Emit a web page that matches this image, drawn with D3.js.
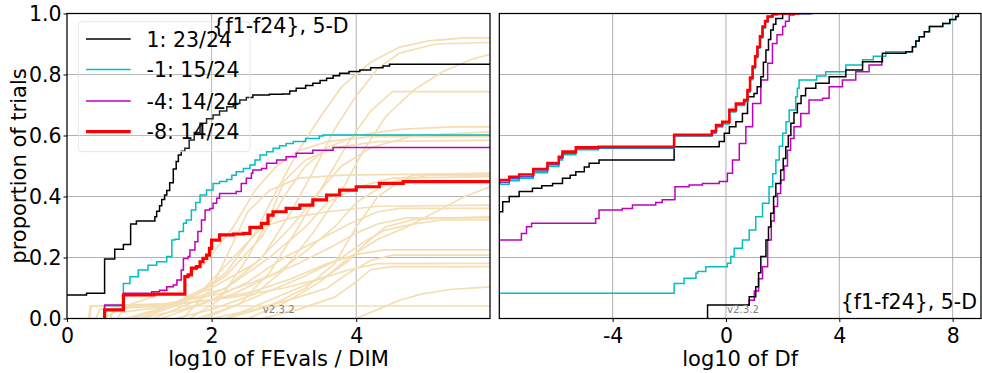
<!DOCTYPE html>
<html>
<head>
<meta charset="utf-8">
<script src="https://cdn.jsdelivr.net/npm/d3@7/dist/d3.min.js"></script>
<style>
  html, body { margin: 0; padding: 0; background: #fff; }
  svg { display: block; font-family: "DejaVu Sans", sans-serif; }
</style>
</head>
<body>
<svg id="chart" width="982" height="373"></svg>
<script>
// ---------------- data ----------------
const legendLabels = ["1: 23/24", "-1: 15/24", "-4: 14/24", "-8: 14/24"];
const panelTitle = "{f1-f24}, 5-D";
const versionLabel = "v2.3.2";
const yTicks = [0, 0.2, 0.4, 0.6, 0.8, 1.0];
const leftXTicks = [0, 2, 4];
const rightXTicks = [-4, 0, 4, 8];
const leftXLabel = "log10 of FEvals / DIM";
const rightXLabel = "log10 of Df";
const yLabel = "proportion of trials";

// runtime ECDFs per target precision: [log10(FEvals/DIM), proportion]
const rlTarget1 = [[-0.2,0.077],[0.27,0.083],[0.52,0.195],[0.66,0.227],[0.78,0.243],[0.88,0.31],[0.96,0.32],[1.215,0.334],[1.24,0.352],[1.28,0.37],[1.31,0.39],[1.35,0.405],[1.38,0.42],[1.42,0.445],[1.47,0.49],[1.51,0.515],[1.54,0.536],[1.58,0.548],[1.63,0.558],[1.69,0.585],[1.76,0.61],[1.84,0.64],[1.93,0.655],[2.02,0.667],[2.11,0.68],[2.21,0.694],[2.3,0.705],[2.39,0.716],[2.48,0.725],[2.57,0.733],[2.8,0.735],[2.98,0.736],[3.08,0.746],[3.17,0.755],[3.3,0.764],[3.40,0.771],[3.5,0.78],[3.59,0.788],[3.68,0.796],[3.77,0.804],[3.9,0.81],[4.05,0.815],[4.2,0.822],[4.37,0.828],[4.46,0.834],[5.85,0.834]];
const rlTargetM1 = [[0.52,0],[0.52,0.042],[0.78,0.115],[0.87,0.137],[0.985,0.159],[1.12,0.175],[1.24,0.186],[1.38,0.203],[1.45,0.257],[1.49,0.26],[1.55,0.285],[1.61,0.312],[1.65,0.323],[1.72,0.356],[1.78,0.38],[1.84,0.405],[1.93,0.421],[2.02,0.443],[2.11,0.449],[2.21,0.456],[2.28,0.47],[2.34,0.481],[2.44,0.492],[2.53,0.503],[2.6,0.52],[2.67,0.536],[2.76,0.547],[2.85,0.558],[2.94,0.566],[3.03,0.574],[3.13,0.58],[3.3,0.59],[3.49,0.598],[3.54,0.602],[5.85,0.602]];
const rlTargetM4 = [[0.52,0],[0.52,0.044],[0.78,0.083],[1.17,0.088],[1.28,0.093],[1.38,0.104],[1.47,0.11],[1.52,0.126],[1.58,0.159],[1.61,0.197],[1.675,0.203],[1.70,0.225],[1.77,0.252],[1.81,0.285],[1.86,0.323],[1.91,0.356],[1.975,0.361],[2.02,0.378],[2.07,0.394],[2.11,0.41],[2.34,0.416],[2.41,0.443],[2.48,0.46],[2.55,0.476],[2.57,0.487],[2.69,0.492],[2.76,0.509],[2.90,0.52],[3.03,0.53],[3.17,0.542],[3.40,0.552],[3.68,0.561],[5.85,0.561]];
const rlTargetM8 = [[0.52,0],[0.52,0.028],[0.78,0.077],[1.2,0.08],[1.63,0.083],[1.63,0.137],[1.675,0.143],[1.72,0.165],[1.79,0.17],[1.84,0.186],[1.88,0.197],[1.93,0.208],[1.97,0.23],[2.0,0.257],[2.11,0.274],[2.3,0.277],[2.44,0.279],[2.53,0.299],[2.69,0.312],[2.78,0.339],[2.85,0.35],[3.03,0.361],[3.22,0.372],[3.40,0.389],[3.59,0.405],[3.77,0.421],[4.0,0.432],[4.32,0.443],[4.65,0.449],[5.85,0.449]];

// single-function ECDFs drawn as background
const rlFunctions = [
  [[0.9,0],[1.3,0.03],[1.8,0.08],[2.2,0.15],[2.6,0.28],[2.9,0.42],[3.2,0.55],[3.5,0.66],[3.8,0.76],[4.2,0.84],[4.6,0.89],[5.0,0.91],[5.5,0.92],[5.85,0.92]],
  [[1.2,0],[1.6,0.04],[2.2,0.1],[2.7,0.2],[3.1,0.35],[3.4,0.48],[3.7,0.62],[4.0,0.73],[4.3,0.82],[4.6,0.87],[5.1,0.9],[5.85,0.905]],
  [[1.5,0],[2.0,0.03],[2.6,0.08],[3.0,0.16],[3.4,0.28],[3.8,0.42],[4.1,0.55],[4.4,0.66],[4.8,0.75],[5.2,0.81],[5.6,0.85],[5.85,0.866]],
  [[0.8,0],[1.4,0.04],[2.0,0.1],[2.6,0.18],[3.1,0.3],[3.5,0.42],[3.9,0.58],[4.2,0.68],[4.5,0.744],[5.85,0.744]],
  [[1.0,0],[1.6,0.05],[2.2,0.14],[2.7,0.27],[3.0,0.4],[3.3,0.5],[3.6,0.56],[4.0,0.6],[4.6,0.62],[5.3,0.628],[5.85,0.628]],
  [[1.9,0],[2.4,0.05],[2.8,0.15],[3.2,0.3],[3.5,0.42],[3.8,0.5],[4.2,0.56],[4.8,0.6],[5.85,0.612]],
  [[0.5,0],[0.8,0.04],[1.3,0.08],[1.9,0.18],[2.3,0.3],[2.6,0.42],[2.9,0.5],[3.2,0.55],[3.6,0.58],[4.2,0.596],[5.85,0.596]],
  [[1.7,0],[2.1,0.06],[2.5,0.2],[2.8,0.33],[3.0,0.45],[3.3,0.52],[3.7,0.56],[4.3,0.58],[5.85,0.585]],
  [[1.0,0],[1.6,0.03],[2.3,0.08],[2.9,0.15],[3.3,0.22],[3.7,0.3],[4.0,0.38],[4.4,0.44],[4.8,0.47],[5.85,0.476]],
  [[2.2,0],[2.8,0.04],[3.3,0.1],[3.7,0.18],[4.0,0.3],[4.3,0.4],[4.6,0.45],[5.0,0.47],[5.85,0.47]],
  [[0.3,0],[0.32,0.04],[1.5,0.05],[2.2,0.1],[2.8,0.2],[3.3,0.3],[3.6,0.38],[4.0,0.43],[4.5,0.46],[5.85,0.465]],
  [[2.5,0],[3.0,0.05],[3.5,0.12],[3.9,0.2],[4.3,0.26],[4.7,0.3],[5.1,0.35],[5.5,0.4],[5.85,0.432]],
  [[1.3,0],[1.9,0.05],[2.5,0.12],[3.0,0.2],[3.5,0.26],[3.9,0.31],[4.3,0.35],[4.6,0.361],[5.85,0.361]],
  [[0.5,0],[0.55,0.03],[1.4,0.05],[2.1,0.08],[2.7,0.13],[3.2,0.18],[3.7,0.24],[4.0,0.28],[4.3,0.31],[4.7,0.33],[5.85,0.33]],
  [[1.8,0],[2.3,0.04],[2.8,0.09],[3.3,0.14],[3.8,0.2],[4.1,0.25],[4.4,0.29],[4.8,0.31],[5.2,0.323],[5.85,0.323]],
  [[0.4,0],[0.45,0.03],[1.2,0.04],[2.0,0.06],[2.6,0.09],[3.1,0.13],[3.6,0.18],[4.0,0.21],[4.4,0.225],[5.85,0.225]],
  [[2.0,0],[2.6,0.03],[3.2,0.07],[3.6,0.1],[3.9,0.15],[4.2,0.19],[4.5,0.208],[5.85,0.208]],
  [[0.6,0],[0.65,0.04],[1.6,0.05],[2.3,0.07],[3.0,0.1],[3.5,0.13],[3.9,0.16],[4.3,0.18],[5.85,0.181]],
  [[2.7,0],[3.2,0.03],[3.7,0.07],[4.0,0.12],[4.2,0.16],[4.5,0.17],[5.85,0.17]],
  [[4.0,0],[4.3,0.03],[4.6,0.06],[4.9,0.08],[5.3,0.095],[5.85,0.104]],
  [[0.32,0],[0.33,0.041],[5.85,0.041]],
  [[1.6,0],[2.0,0.1],[2.3,0.25],[2.5,0.35],[2.8,0.42],[3.2,0.46],[3.8,0.47],[5.85,0.476]],
  [[0.7,0],[0.75,0.02],[1.4,0.04],[1.9,0.1],[2.3,0.2],[2.7,0.3],[3.1,0.33],[3.6,0.35],[4.3,0.368],[5.85,0.372]],
  [[2.2,0],[2.7,0.05],[3.2,0.1],[3.6,0.14],[3.9,0.19],[4.1,0.24],[4.4,0.3],[4.8,0.325],[5.85,0.334]]
];

// final-precision ECDFs: [log10(Df), proportion]
const dfBlackEarly = [[-0.65,0],[-0.65,0.044],[0.70,0.044],[0.82,0.071],[1.05,0.104],[1.15,0.15],[1.23,0.203],[1.41,0.257],[1.5,0.3],[1.58,0.345],[1.68,0.4],[1.76,0.443],[1.93,0.487],[2.02,0.525],[2.11,0.563],[2.2,0.6],[2.29,0.64],[2.4,0.675],[2.52,0.705],[2.65,0.73],[2.81,0.755],[3.17,0.771],[3.64,0.793],[4.23,0.815],[4.82,0.842],[5.52,0.87],[6.35,0.875],[6.58,0.891],[6.7,0.91],[6.82,0.924],[7.0,0.94],[7.18,0.957],[7.65,0.967],[7.9,0.98],[8.11,0.99],[8.2,1.0]];
const dfMagentaEarly = [[0.75,0.044],[0.82,0.06],[1.0,0.09],[1.15,0.13],[1.29,0.17],[1.47,0.257],[1.6,0.32],[1.70,0.367],[1.82,0.41],[1.93,0.454],[2.05,0.5],[2.17,0.552],[2.28,0.59],[2.40,0.629],[2.64,0.672],[2.93,0.716],[3.41,0.722],[3.64,0.76],[4.11,0.782],[4.58,0.809],[5.05,0.831],[5.5,0.86]];
const dfCyanEarly = [[-8.5,0.03],[-8,0.083],[-1.83,0.083],[-1.83,0.115],[-1.54,0.115],[-1.48,0.132],[-1.06,0.148],[-1.0,0.154],[-0.71,0.17],[0.05,0.181],[0.17,0.203],[0.29,0.23],[0.58,0.257],[0.82,0.29],[1.05,0.334],[1.29,0.378],[1.52,0.432],[1.65,0.475],[1.76,0.52],[1.88,0.565],[2.0,0.607],[2.12,0.645],[2.23,0.684],[2.46,0.727],[2.52,0.755],[2.58,0.782],[3.05,0.782],[3.2,0.795],[3.52,0.809],[4.23,0.831],[4.82,0.848],[5.2,0.86],[5.64,0.875],[6.58,0.891],[6.7,0.91],[6.82,0.924],[7.0,0.94],[7.18,0.957],[7.65,0.967],[7.9,0.98],[8.11,0.99],[8.2,1.0]];
const dfBlackLate = [[-8.5,0.31],[-8,0.35],[-7.88,0.383],[-7.65,0.4],[-7.3,0.416],[-6.83,0.427],[-6.5,0.435],[-6.12,0.443],[-5.77,0.46],[-5.5,0.47],[-5.3,0.481],[-5.0,0.497],[-4.83,0.509],[-4.48,0.52],[-1.83,0.52],[-1.83,0.563],[-0.4,0.563],[-0.24,0.58],[-0.06,0.607],[0.12,0.629],[0.35,0.645],[0.58,0.672],[0.76,0.727],[0.99,0.738],[1.1,0.76],[1.23,0.793],[1.32,0.84],[1.41,0.88],[1.5,0.915],[1.58,0.946],[1.67,0.965],[1.76,0.984],[2.0,0.998],[2.1,1.0],[3.0,1.0]];
const dfMagentaMid = [[-8.5,0.22],[-8,0.257],[-7.5,0.257],[-7.22,0.279],[-7.04,0.301],[-6.86,0.312],[-4.83,0.312],[-4.6,0.328],[-4.48,0.356],[-3.66,0.361],[-3.3,0.372],[-2.48,0.38],[-2.25,0.389],[-1.83,0.39],[-1.80,0.432],[-1.3,0.438],[-0.83,0.443],[-0.24,0.449],[0.05,0.476],[0.23,0.52],[0.47,0.574],[0.7,0.629],[0.94,0.705],[1.23,0.782],[1.47,0.837],[1.64,0.902],[1.8,0.93],[2.0,0.957],[2.1,0.975],[2.23,0.995],[2.4,1.0],[3.0,1.0]];
const dfCyanLate = [[-8.5,0.43],[-8,0.44],[-7.65,0.452],[-7.3,0.46],[-6.8,0.478],[-6.3,0.498],[-5.9,0.52],[-5.77,0.537],[-5.3,0.553],[-4.5,0.558],[-1.83,0.558],[-1.83,0.598],[-0.65,0.598],[-0.5,0.607],[-0.35,0.628],[-0.13,0.638],[0.12,0.677],[0.35,0.698],[0.64,0.71],[0.76,0.742],[0.85,0.783],[0.94,0.82],[1.03,0.855],[1.11,0.886],[1.2,0.92],[1.29,0.952],[1.38,0.972],[1.47,0.988],[1.64,0.997],[1.8,1.0],[3.0,1.0]];
const dfMagentaLate = [[-8.5,0.44],[-8,0.447],[-7.65,0.458],[-7.3,0.465],[-6.8,0.484],[-6.3,0.504],[-5.9,0.525],[-5.77,0.542],[-5.3,0.557],[-4.5,0.56],[-1.83,0.56],[-1.83,0.6],[-0.65,0.6],[-0.5,0.611],[-0.35,0.631],[-0.13,0.642],[0.12,0.68],[0.35,0.702],[0.64,0.713],[0.76,0.746],[0.85,0.787],[0.94,0.823],[1.03,0.858],[1.11,0.889],[1.2,0.923],[1.29,0.955],[1.38,0.974],[1.47,0.99],[1.64,0.998],[1.8,1.0],[3.1,1.0]];
const dfRedLate = [[-8.5,0.445],[-8,0.454],[-7.65,0.465],[-7.3,0.472],[-6.8,0.49],[-6.3,0.51],[-5.9,0.53],[-5.77,0.547],[-5.3,0.561],[-4.5,0.563],[-1.83,0.563],[-1.83,0.602],[-0.65,0.602],[-0.5,0.615],[-0.35,0.634],[-0.13,0.645],[0.12,0.684],[0.35,0.705],[0.64,0.716],[0.76,0.749],[0.85,0.79],[0.94,0.826],[1.03,0.86],[1.11,0.891],[1.2,0.925],[1.29,0.957],[1.38,0.975],[1.47,0.99],[1.64,0.998],[1.8,1.0],[2.6,1.0]];

// ---------------- layout & styles ----------------
const W = 982, H = 373;
const plotTop = 13.5, plotBottom = 318.5;
const leftPanel = { x0: 67, x1: 490 };
const rightPanel = { x0: 499.3, x1: 981 };
const fontSize = 20.5;
const colors = { k: "#000000", c: "#00bfbf", m: "#bf00bf", r: "#ff0000", wheat: "#f5deb3", grid: "#b0b0b0" };
const legendStyles = [
  { color: colors.k, width: 1.5 },
  { color: colors.c, width: 1.5 },
  { color: colors.m, width: 1.5 },
  { color: colors.r, width: 3.2 }
];

const svg = d3.select("#chart");
svg.append("rect").attr("width", W).attr("height", H).attr("fill", "#fff");

const y = d3.scaleLinear().domain([0, 1]).range([plotBottom, plotTop]);
const xLeft = d3.scaleLinear().domain([0, 5.85]).range([leftPanel.x0, leftPanel.x1]);
const xRight = d3.scaleLinear().domain([-8, 9]).range([rightPanel.x0, rightPanel.x1]);

const defs = svg.append("defs");
function clip(id, x0, x1) {
  defs.append("clipPath").attr("id", id)
    .append("rect").attr("x", x0).attr("y", plotTop).attr("width", x1 - x0).attr("height", plotBottom - plotTop);
}
clip("clipL", leftPanel.x0, leftPanel.x1);
clip("clipR", rightPanel.x0, rightPanel.x1);

function grid(g, x, xTicks, x0, x1) {
  g.selectAll("line.vg").data(xTicks).join("line")
    .attr("x1", d => x(d)).attr("x2", d => x(d))
    .attr("y1", plotTop).attr("y2", plotBottom)
    .attr("stroke", colors.grid).attr("stroke-width", 1);
  g.selectAll("line.hg").data(yTicks.filter(t => t > 0 && t < 1)).join("line")
    .attr("class", "hg")
    .attr("x1", x0).attr("x2", x1)
    .attr("y1", d => y(d)).attr("y2", d => y(d))
    .attr("stroke", colors.grid).attr("stroke-width", 1);
}

function drawSeries(g, x, data, color, width, clipId, curve = d3.curveStepAfter) {
  const line = d3.line().x(d => x(d[0])).y(d => y(d[1])).curve(curve);
  g.append("path").datum(data)
    .attr("d", line)
    .attr("fill", "none")
    .attr("stroke", color)
    .attr("stroke-width", width)
    .attr("stroke-linejoin", "miter")
    .attr("clip-path", `url(#${clipId})`);
}

// ---------------- left panel ----------------
const gL = svg.append("g");
grid(gL.append("g"), xLeft, leftXTicks.filter(t => t > 0), leftPanel.x0, leftPanel.x1);
rlFunctions.forEach(f => drawSeries(gL, xLeft, f, colors.wheat, 1.7, "clipL", d3.curveLinear));
drawSeries(gL, xLeft, rlTarget1, colors.k, 1.5, "clipL");
drawSeries(gL, xLeft, rlTargetM1, colors.c, 1.5, "clipL");
drawSeries(gL, xLeft, rlTargetM4, colors.m, 1.5, "clipL");
drawSeries(gL, xLeft, rlTargetM8, colors.r, 3.2, "clipL");

// ---------------- right panel ----------------
const gR = svg.append("g");
grid(gR.append("g"), xRight, rightXTicks, rightPanel.x0, rightPanel.x1);
drawSeries(gR, xRight, dfMagentaEarly, colors.m, 1.5, "clipR");
drawSeries(gR, xRight, dfCyanEarly, colors.c, 1.5, "clipR");
drawSeries(gR, xRight, dfBlackEarly, colors.k, 1.5, "clipR");
drawSeries(gR, xRight, dfMagentaMid, colors.m, 1.5, "clipR");
drawSeries(gR, xRight, dfBlackLate, colors.k, 1.5, "clipR");
drawSeries(gR, xRight, dfCyanLate, colors.c, 1.5, "clipR");
drawSeries(gR, xRight, dfMagentaLate, "#6a3adf", 1.5, "clipR");
drawSeries(gR, xRight, dfRedLate, colors.r, 2.6, "clipR");

// ---------------- axes ----------------
function frame(x0, x1) {
  svg.append("rect").attr("x", x0).attr("y", plotTop)
    .attr("width", x1 - x0).attr("height", plotBottom - plotTop)
    .attr("fill", "none").attr("stroke", "#000").attr("stroke-width", 1.25);
}
frame(leftPanel.x0, leftPanel.x1);
frame(rightPanel.x0, rightPanel.x1);

function xAxis(x, ticks) {
  const g = svg.append("g").attr("transform", `translate(0,${plotBottom})`)
    .call(d3.axisBottom(x).tickValues(ticks).tickSize(3.5).tickPadding(6).tickFormat(d => d3.format("d")(d).replace("−", "-")));
  g.select(".domain").remove();
  g.selectAll("text").attr("font-size", fontSize).attr("font-family", "DejaVu Sans").attr("fill", "#000");
  g.selectAll("line").attr("stroke", "#000");
}
xAxis(xLeft, leftXTicks);
xAxis(xRight, rightXTicks);

const gy = svg.append("g").attr("transform", `translate(${leftPanel.x0},0)`)
  .call(d3.axisLeft(y).tickValues(yTicks).tickSize(3.5).tickPadding(2).tickFormat(d3.format(".1f")));
gy.select(".domain").remove();
gy.selectAll("text").attr("font-size", fontSize).attr("font-family", "DejaVu Sans").attr("fill", "#000");
gy.selectAll("line").attr("stroke", "#000");

// axis labels
svg.append("text").attr("x", (leftPanel.x0 + leftPanel.x1) / 2).attr("y", 365.5)
  .attr("text-anchor", "middle").attr("font-size", 21).text(leftXLabel);
svg.append("text").attr("x", (rightPanel.x0 + rightPanel.x1) / 2).attr("y", 365.5)
  .attr("text-anchor", "middle").attr("font-size", 21).text(rightXLabel);
svg.append("text").attr("transform", `translate(26,${(plotTop + plotBottom) / 2}) rotate(-90)`)
  .attr("text-anchor", "middle").attr("font-size", 21).text(yLabel);

// version stamps
svg.append("text").attr("x", 262.7).attr("y", 313).attr("font-size", 10.2)
  .attr("fill", "#808080").text(versionLabel);
svg.append("text").attr("x", 727).attr("y", 313).attr("font-size", 10.2)
  .attr("fill", "#808080").text(versionLabel);

// ---------------- legend ----------------
const lg = svg.append("g");
lg.append("rect").attr("x", 78.3).attr("y", 21.7).attr("width", 171.7).attr("height", 130)
  .attr("rx", 4).attr("fill", "#fff").attr("fill-opacity", 0.15)
  .attr("stroke", "#e6e6e6").attr("stroke-width", 1);
const rowY = [39, 69.5, 101, 131.7];
legendLabels.forEach((lab, i) => {
  lg.append("line").attr("x1", 86).attr("x2", 130.7).attr("y1", rowY[i]).attr("y2", rowY[i])
    .attr("stroke", legendStyles[i].color).attr("stroke-width", legendStyles[i].width);
  lg.append("text").attr("x", 146.5).attr("y", rowY[i] + 7.6)
    .attr("font-size", fontSize).text(lab);
});

// panel titles
svg.append("text").attr("x", (leftPanel.x0 + leftPanel.x1) / 2 + 2).attr("y", 33)
  .attr("text-anchor", "middle").attr("font-size", fontSize).text(panelTitle);
svg.append("text").attr("x", 977).attr("y", 308.5)
  .attr("text-anchor", "end").attr("font-size", fontSize).text(panelTitle);
</script>
</body>
</html>
